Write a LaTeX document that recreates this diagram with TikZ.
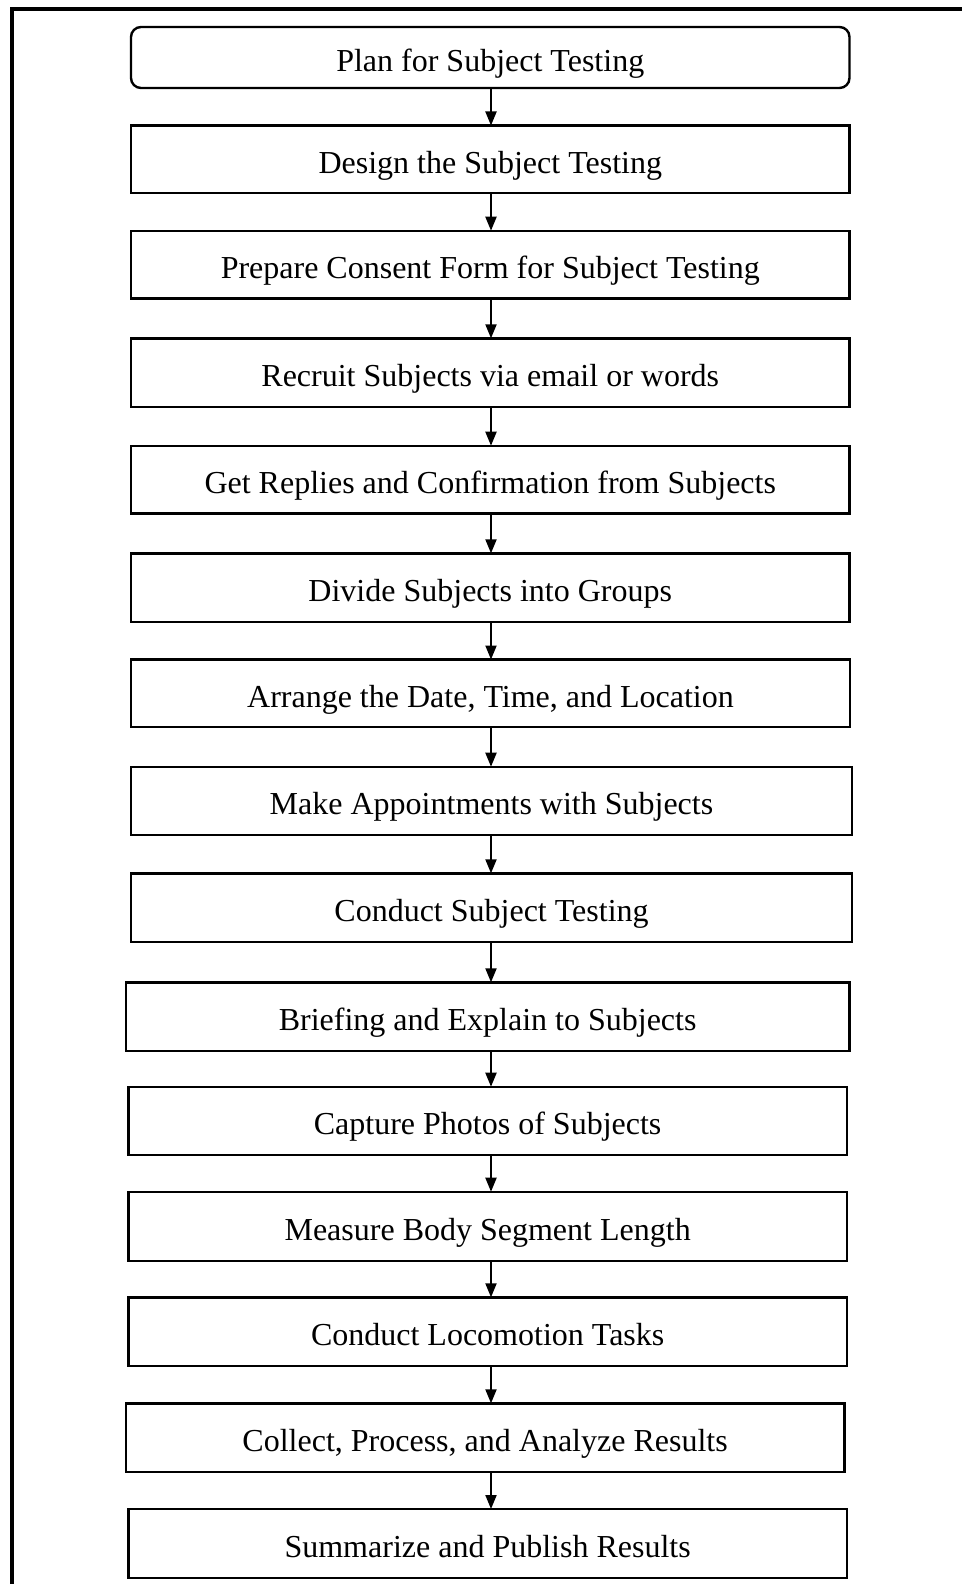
\documentclass[tikz,border=0pt]{standalone}
\usepackage{fontspec}
\setmainfont{Liberation Serif}
\usetikzlibrary{arrows.meta}
\begin{document}
\begin{tikzpicture}[x=1pt,y=-1pt,
  stepbox/.style={draw=black,line width=2.4pt,inner sep=0pt,outer sep=0pt,
    text height=30pt,text depth=2pt,
    font=\fontsize{32}{38}\selectfont},
  flow/.style={draw=black,line width=2pt,-{Triangle[length=14pt,width=11pt]}}]
\useasboundingbox (0,0) rectangle (961,1584);
% outer frame (top and left edges only)
\draw[line width=4pt] (12,1590) -- (12,9.3) -- (970,9.3);
\coordinate (spine) at (491,0);
% process steps
\node[stepbox,rounded corners=10pt,minimum width=718.5pt,minimum height=61pt] (s1) at (490.25,57.5) {Plan for Subject Testing};
\node[stepbox,minimum width=718.5pt,minimum height=67.5pt] (s2) at (490.25,159.25) {Design the Subject Testing};
\node[stepbox,minimum width=718.5pt,minimum height=67.6pt] (s3) at (490.25,264.5) {Prepare Consent Form for Subject Testing};
\node[stepbox,minimum width=718.5pt,minimum height=68.4pt] (s4) at (490.25,372.5) {Recruit Subjects via email or words};
\node[stepbox,minimum width=718.5pt,minimum height=67.6pt] (s5) at (490.25,479.5) {Get Replies and Confirmation from Subjects};
\node[stepbox,minimum width=718.5pt,minimum height=68.7pt] (s6) at (490.25,587.65) {Divide Subjects into Groups};
\node[stepbox,minimum width=719pt,minimum height=67.5pt] (s7) at (490.5,693.25) {Arrange the Date, Time, and Location};
\node[stepbox,minimum width=721pt,minimum height=68.3pt] (s8) at (491.5,800.85) {Make Appointments with Subjects};
\node[stepbox,minimum width=721pt,minimum height=68.4pt] (s9) at (491.5,907.5) {Conduct Subject Testing};
\node[stepbox,minimum width=723.8pt,minimum height=68.4pt] (s10) at (487.6,1016.5) {Briefing and Explain to Subjects};
\node[stepbox,minimum width=718.7pt,minimum height=68.3pt] (s11) at (487.65,1120.85) {Capture Photos of Subjects};
\node[stepbox,minimum width=718.7pt,minimum height=69pt] (s12) at (487.65,1226.2) {Measure Body Segment Length};
\node[stepbox,minimum width=718.7pt,minimum height=68.4pt] (s13) at (487.65,1331.5) {Conduct Locomotion Tasks};
\node[stepbox,minimum width=718.8pt,minimum height=68.4pt] (s14) at (485.1,1437.5) {Collect, Process, and Analyze Results};
\node[stepbox,minimum width=718.7pt,minimum height=68.7pt] (s15) at (487.65,1543.35) {Summarize and Publish Results};
% connectors
\foreach \a/\b in {s1/s2,s2/s3,s3/s4,s4/s5,s5/s6,s6/s7,s7/s8,s8/s9,s9/s10,s10/s11,s11/s12,s12/s13,s13/s14,s14/s15}
  \draw[flow] (\a.south -| spine) -- (\b.north -| spine);
\end{tikzpicture}
\end{document}
